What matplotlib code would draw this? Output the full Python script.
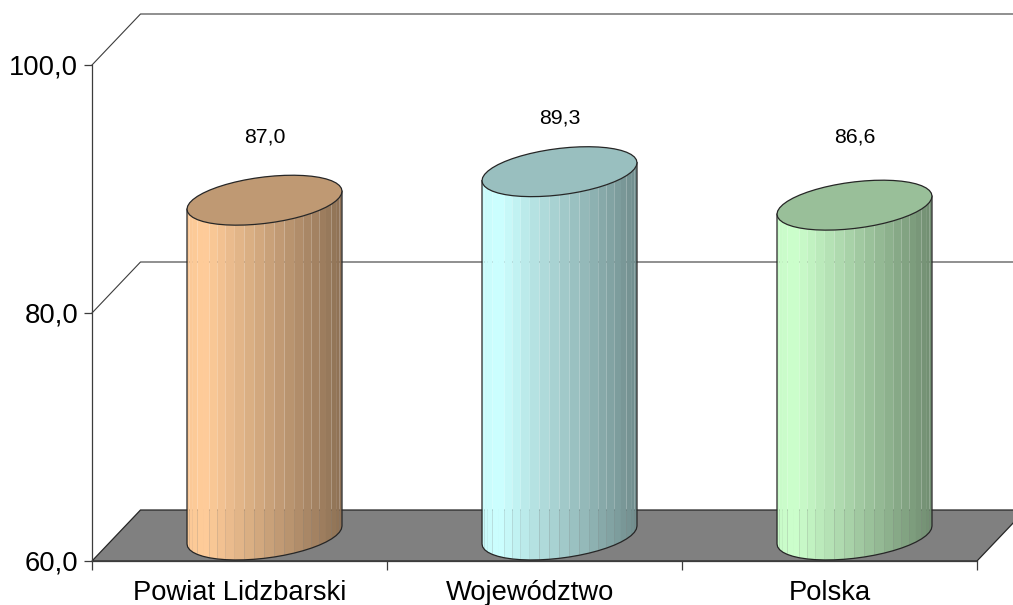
import numpy as np
from matplotlib import pyplot as plt
from matplotlib.patches import Polygon

categories = ["Powiat Lidzbarski", "Województwo", "Polska"]
values = [87.0, 89.3, 86.6]
value_labels = ["87,0", "89,3", "86,6"]
y_ticks = [60, 80, 100]
y_tick_labels = ["60,0", "80,0", "100,0"]
base_colors = ["#FFCC99", "#CCFFFF", "#CCFFCC"]
label_lift = [63, 54, 68]

plt.rcParams["font.family"] = ["Liberation Sans", "DejaVu Sans"]
W, H = 1013, 605
fig = plt.figure(figsize=(W / 100, H / 100), dpi=100)
ax = fig.add_axes([92 / W, (H - 561) / H, 885 / W, 496 / H])
ax.set_xlim(-0.5, 2.5)
ax.set_ylim(60, 100)

# size of one pixel in data units, the fake 3d is all done with these
px_x = 3 / 885
px_y = 40 / 496
depth_x = 48.5 * px_x
depth_y = 51 * px_y
line_col = "#3c3c3c"

# walls and floor
for t in y_ticks[1:]:
    ax.plot(
        [-0.5, -0.5 + depth_x, 2.5 + depth_x],
        [t, t + depth_y, t + depth_y],
        color=line_col,
        lw=0.8,
        clip_on=False,
        zorder=1,
    )
floor = Polygon(
    [
        (-0.5, 60),
        (2.5, 60),
        (2.5 + depth_x, 60 + depth_y),
        (-0.5 + depth_x, 60 + depth_y),
    ],
    closed=True,
    facecolor="#808080",
    edgecolor="#262626",
    lw=0.9,
    clip_on=False,
    zorder=2,
)
ax.add_patch(floor)


def shade(col, f):
    rgb = np.array(plt.matplotlib.colors.to_rgb(col))
    return tuple(rgb * f)


# cylinders, one polygon per facet
half_w = 77.5 * px_x
tilt = 9 * px_y
half_h = 23.3 * px_y
n_facets = 24
for i, val in enumerate(values):
    cx = i + 25 * px_x
    low = 60 + 26 * px_y
    top = val + 26 * px_y
    ang = np.linspace(np.pi, 2 * np.pi, n_facets + 1)
    xs = cx + half_w * np.cos(ang)
    dy = tilt * np.cos(ang) + half_h * np.sin(ang)
    for k in range(n_facets):
        pos = (xs[k] + xs[k + 1] - 2 * cx + 2 * half_w) / (4 * half_w)
        f = np.interp(pos, [0, 0.12, 1], [0.98, 1.0, 0.55])
        ax.add_patch(
            Polygon(
                [
                    (xs[k], low + dy[k]),
                    (xs[k + 1], low + dy[k + 1]),
                    (xs[k + 1], top + dy[k + 1]),
                    (xs[k], top + dy[k]),
                ],
                closed=True,
                facecolor=shade(base_colors[i], f),
                edgecolor="none",
                clip_on=False,
                zorder=3,
            )
        )
    # outline of the body
    ax.plot(
        np.r_[xs[0], xs, xs[-1]],
        np.r_[top + dy[0], low + dy, top + dy[-1]],
        color="#262626",
        lw=0.9,
        clip_on=False,
        zorder=4,
    )
    # top cap
    ang2 = np.linspace(0, 2 * np.pi, 2 * n_facets + 1)
    cap = np.column_stack(
        [
            cx + half_w * np.cos(ang2),
            top + tilt * np.cos(ang2) + half_h * np.sin(ang2),
        ]
    )
    ax.add_patch(
        Polygon(
            cap,
            closed=True,
            facecolor=shade(base_colors[i], 0.75),
            edgecolor="#262626",
            lw=0.9,
            clip_on=False,
            zorder=5,
        )
    )
    ax.annotate(
        value_labels[i],
        xy=(cx, top),
        xytext=(0, label_lift[i] * 0.72),
        textcoords="offset points",
        ha="center",
        va="center",
        fontsize=15.3,
        color="black",
        zorder=6,
    )

ax.patch.set_visible(False)
for s in ["top", "right"]:
    ax.spines[s].set_visible(False)
for s in ["left", "bottom"]:
    ax.spines[s].set_color(line_col)
    ax.spines[s].set_linewidth(0.9)
    ax.spines[s].set_zorder(2.5)

ax.set_yticks(y_ticks)
ax.set_yticklabels(y_tick_labels, fontsize=19.7)
ax.tick_params(axis="y", length=6, width=0.9, color=line_col, pad=4)
ax.set_xticks([-0.5, 0.5, 1.5, 2.5])
ax.set_xticklabels([])
ax.tick_params(axis="x", which="major", length=6.5, width=0.9, color=line_col)
# middle label sits a bit left of its slot in the original
ax.set_xticks([0, 0.985, 2], minor=True)
ax.set_xticklabels(categories, minor=True, fontsize=19.7)
ax.tick_params(axis="x", which="minor", length=0, pad=14)

plt.savefig("out.png", dpi=100)
